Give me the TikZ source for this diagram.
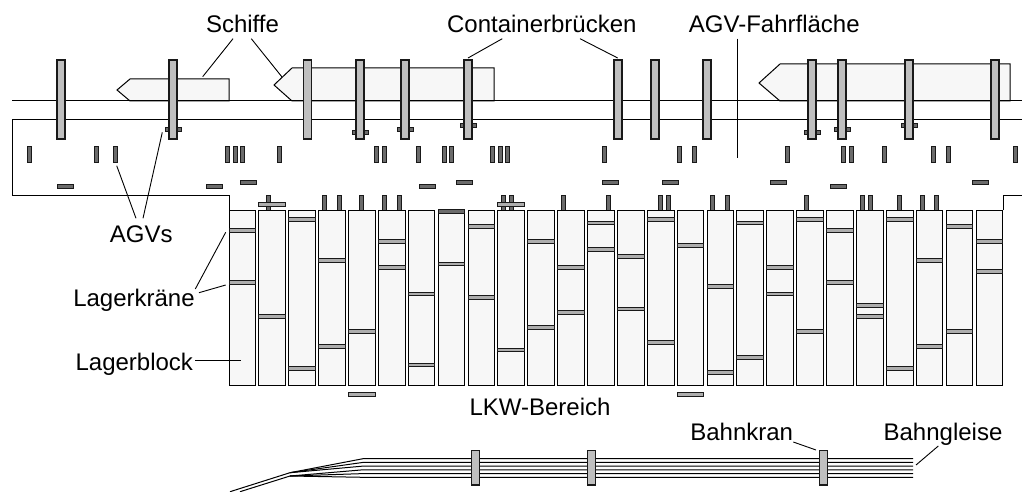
\documentclass[tikz,border=0pt]{standalone}
\usepackage{fontspec}
\setmainfont{Liberation Sans}
\definecolor{blockfill}{gray}{0.97}
\definecolor{cranefill}{gray}{0.75}
\definecolor{agvfill}{gray}{0.42}
\definecolor{stackfill}{gray}{0.68}
\tikzset{
  outline/.style={draw=black,line width=1pt},
  ship/.style={outline,fill=blockfill},
  block/.style={outline,fill=blockfill},
  quaycrane/.style={draw=black!90,line width=1.05pt,fill=cranefill},
  stackcrane/.style={draw=black!90,line width=1pt,fill=stackfill},
  agv/.style={draw=black!90,line width=1pt,fill=agvfill},
  lead/.style={draw=black,line width=0.9pt},
  track/.style={draw=black,line width=1pt},
  lab/.style={font=\fontsize{24}{24}\selectfont,inner sep=0pt,text=black,anchor=base}
}
\begin{document}
\begin{tikzpicture}[x=1pt,y=-1pt]
\useasboundingbox (0,0) rectangle (1022,492);
% ships
\draw[ship] (229,101) -- (229,79) -- (130,79) -- (117,90) -- (130,101) -- cycle;
\draw[ship] (494,101) -- (494,68) -- (292,68) -- (274,85) -- (292,101) -- cycle;
\draw[ship] (1010,101) -- (1010,64) -- (780,64) -- (759,83) -- (780,101) -- cycle;
% quay
\draw[outline] (12,101) -- (1022,101);
\draw[outline] (1022,120) -- (12,120) -- (12,195) -- (229,195) -- (229,210);
\draw[outline] (1003,210) -- (1003,195) -- (1022,195);
% vertical AGVs in the driving area
\foreach \x in {29,96,115,227,235,242,279,376,384,418,444,451,492,500,507,604,679,694,787,843,851,884,933,948,1015}
  \draw[agv] (\x-2,146) rectangle (\x+2,162);
% horizontal AGVs in the driving area
\foreach \x/\y in {65/186,214/186,248/182,427/186,464/182,610/182,670/182,778/182,838/186,980/182}
  \draw[agv] (\x-8,\y-2) rectangle (\x+8,\y+2);
% AGVs under the quay cranes
\foreach \x/\y in {173/129.5,360/133,405/129.5,468/126,812/133,842/129.5,909/126}
  \draw[agv] (\x-8,\y-2) rectangle (\x+8,\y+2);
% quay cranes
\foreach \x in {61,173,307.5,360,405,468,618,655,707,812,842,909,995}
  \draw[quaycrane] (\x-4,60) rectangle (\x+4,139);
% AGVs at the blocks
\foreach \x in {268.3,324.3,339.3,361.7,384,399,503,511,563,608,660,668,712.7,727,806,862,870,899,922,936.7}
  \draw[agv] (\x-2,195) rectangle (\x+2,210);
% blocks
\foreach \i in {0,...,25}
  \draw[block] ({229+29.88*\i},210) rectangle ({255.7+29.88*\i},385.7);
% stacking cranes
\foreach \i/\y in {0/230.3,0/282.7,1/316.3,2/219.3,2/368.7,3/260.3,3/346.3,4/331.3,5/241.7,5/267.7,6/294,6/365,7/264,8/226.7,8/297.7,9/350,10/241.7,10/327.3,11/267.7,11/312.3,12/223,12/249.3,13/256.7,13/309,14/219.3,14/342.7,15/245.3,16/286.3,16/372.3,17/223,17/357.3,18/267.7,18/294,19/219.3,19/331.3,20/230.3,20/282.7,21/305.3,21/316.3,22/219.3,22/368.7,23/260.3,23/346.3,24/226.7,24/331.3,25/241.7,25/271.3}
  \draw[stackcrane] ({229+29.88*\i},\y-1.8) rectangle ({255.7+29.88*\i},\y+1.8);
\draw[agv] (438,209.8) rectangle (464.7,213.6);
% cranes parked outside the blocks
\foreach \x/\y in {258.9/204.3,497.9/204.3,348.3/394.7,677/394.7}
  \draw[stackcrane] (\x,\y-2) rectangle (\x+26.7,\y+2);
% rail tracks
\coordinate (railU) at (290,472.7);
\coordinate (railL) at (290,476);
\draw[track] (230,491.7) -- (railU);
\draw[track] (240,491.7) -- (railL);
\foreach \y in {458.7,462.4,466.1}
  \draw[track] (railU) -- (363,\y) -- (913,\y);
\foreach \y in {469.8,473.6,477.3}
  \draw[track] (railL) -- (363,\y) -- (913,\y);
\foreach \x in {475.7,591.7,823.3}
  \draw[quaycrane] (\x-4,450.7) rectangle (\x+4,485);
% labels
\node[lab] (schiffe) at (242.5,32.7) {Schiffe};
\node[lab] (cb) at (541.8,32.7) {Containerbrücken};
\node[lab] (fahr) at (774.3,32.7) {AGV-Fahrfläche};
\node[lab] (agvs) at (141.3,242.3) {AGVs};
\node[lab] (lkran) at (134,306.7) {Lagerkräne};
\node[lab] (lblock) at (134.3,370) {Lagerblock};
\node[lab] (lkw) at (540,415) {LKW-Bereich};
\node[lab] (bk) at (741.7,440.7) {Bahnkran};
\node[lab] (bg) at (943,440.7) {Bahngleise};
% leaders
\draw[lead] (233,38.7) -- (202.7,76.7);
\draw[lead] (251.3,38.7) -- (282,77);
\draw[lead] (502.3,38.7) -- (468,58);
\draw[lead] (580,38.7) -- (617.7,58);
\draw[lead] (737,38.7) -- (737,158);
\draw[lead] (136,218.3) -- (116.7,165.7);
\draw[lead] (143,218.3) -- (162.3,132.3);
\draw[lead] (195.3,289) -- (225.7,232.3);
\draw[lead] (199,292.7) -- (225.7,285);
\draw[lead] (195,360) -- (241,360);
\draw[lead] (793.3,442) -- (816,450);
\draw[lead] (938.3,446) -- (916,465);
\end{tikzpicture}
\end{document}
